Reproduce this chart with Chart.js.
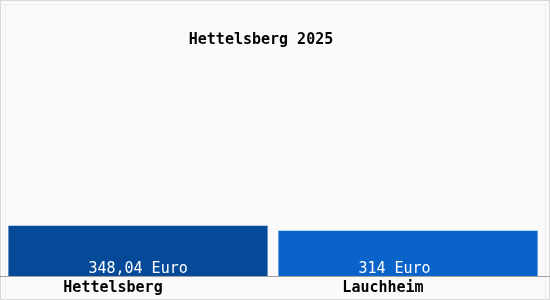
<!DOCTYPE html>
<html><head><meta charset="utf-8">
<script src="https://cdn.jsdelivr.net/npm/chart.js@4"></script>
<style>html,body{margin:0;padding:0;background:#fafafa;}#wrap{width:550px;height:300px;}</style>
</head><body><div id="wrap"><canvas id="c" width="550" height="300"></canvas></div>
<script>
const titleText = "Hettelsberg 2025";
const categories = ["Hettelsberg", "Lauchheim"];
const values = [348.04, 314];
const valueLabels = ["348,04 Euro", "314 Euro"];
const barColors = ["#044a99", "#0a63c8"];
const yMax = 1845;

const FONT = "'DejaVu Sans Mono', 'Liberation Mono', monospace";

const deco = {
  id: 'deco',
  beforeDraw(chart) {
    const ctx = chart.ctx;
    ctx.save();
    ctx.fillStyle = '#fafafa';
    ctx.fillRect(0, 0, chart.width, chart.height);
    ctx.strokeStyle = '#d8d8d8';
    ctx.lineWidth = 1;
    ctx.strokeRect(0.5, 0.5, chart.width - 1, chart.height - 1);
    ctx.strokeStyle = '#ececec';
    ctx.beginPath();
    ctx.moveTo(5.5, 4); ctx.lineTo(5.5, chart.height);
    ctx.moveTo(0, 4.5); ctx.lineTo(chart.width, 4.5);
    ctx.moveTo(545.5, 4); ctx.lineTo(545.5, chart.height);
    ctx.stroke();
    ctx.restore();
  },
  afterDatasetsDraw(chart) {
    const ctx = chart.ctx;
    const meta = chart.getDatasetMeta(0);
    ctx.save();
    ctx.font = "15px " + FONT;
    ctx.fillStyle = '#ffffff';
    ctx.textBaseline = 'middle';
    ctx.textAlign = 'left';
    meta.data.forEach((bar, i) => {
      const left = bar.x - bar.width / 2;
      ctx.fillText(valueLabels[i], left + 80, chart.scales.y.getPixelForValue(0) - 7);
    });
    const y0 = Math.round(chart.scales.y.getPixelForValue(0)) + 0.5;
    ctx.strokeStyle = '#a0a0a0';
    ctx.beginPath(); ctx.moveTo(0, y0); ctx.lineTo(chart.width, y0); ctx.stroke();
    ctx.font = "bold 15px " + FONT;
    ctx.fillStyle = '#000000';
    ctx.textAlign = 'center';
    ctx.fillText(titleText, chart.width / 2 - 14, 40);
    ctx.restore();
  }
};

new Chart(document.getElementById('c'), {
  type: 'bar',
  data: {
    labels: categories,
    datasets: [{ data: values, backgroundColor: barColors, borderWidth: 0,
      barPercentage: 0.96, categoryPercentage: 1.0 }]
  },
  options: {
    responsive: false,
    animation: false,
    devicePixelRatio: 1,
    layout: { padding: { top: 10, left: 3, right: 7, bottom: 0 } },
    plugins: { legend: { display: false }, tooltip: { enabled: false }, title: { display: false } },
    scales: {
      x: {
        grid: { display: false, drawTicks: false },
        border: { display: false },
        ticks: { color: '#000', font: { family: FONT, size: 15, weight: 'bold' }, padding: 3, labelOffset: -25, maxRotation: 0 }
      },
      y: { display: false, min: 0, max: yMax }
    }
  },
  plugins: [deco]
});
</script>
</body></html>
